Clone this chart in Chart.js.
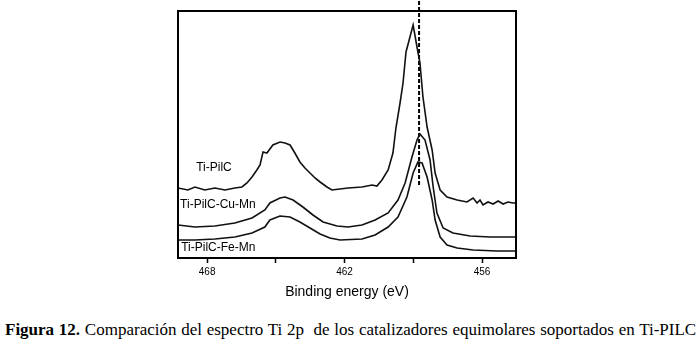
<!DOCTYPE html>
<html>
<head>
<meta charset="utf-8">
<script src="https://cdn.jsdelivr.net/npm/chart.js@4.4.1/dist/chart.umd.min.js"></script>
<style>
    html, body { margin: 0; padding: 0; background: #fff; }
    #wrap { position: relative; width: 700px; height: 346px; overflow: hidden; }
    #chart-box { position: absolute; left: 0; top: 0; width: 700px; height: 305px; }
    #caption {
        position: absolute; left: 5px; top: 320px; white-space: nowrap;
        font-family: "Liberation Serif", "Times New Roman", serif; font-size: 17px; word-spacing: 0.5px; color: #000;
    }
</style>
</head>
<body>
<div id="wrap">
    <div id="chart-box"><canvas id="xps-chart"></canvas></div>
    <div id="caption"><b>Figura 12.</b> Comparación del espectro Ti 2p&nbsp; de los catalizadores equimolares soportados en Ti-PILC</div>
</div>
<script>
// Ti 2p spectra, intensity in arbitrary units (offset stacked)
const tiPilcEnergy = [469.27, 468.84, 468.53, 468.10, 467.66, 467.22, 466.79, 466.48, 466.26, 466.04,
    465.83, 465.69, 465.56, 465.39, 465.13, 464.82, 464.60, 464.38, 464.17, 463.95,
    463.73, 463.51, 463.29, 463.07, 462.77, 462.55, 462.20, 461.85, 461.24, 460.80,
    460.59, 460.37, 460.10, 459.89, 459.76, 459.58, 459.45, 459.32, 459.01, 458.84,
    458.71, 458.58, 458.40, 458.18, 458.05, 457.83, 457.53, 457.09, 456.66, 456.39,
    456.22, 456.09, 455.96, 455.74, 455.52, 455.30, 455.08, 454.87, 454.65, 454.52];
const tiPilcCounts = [70, 68, 71, 68, 70, 68, 70, 71, 75, 81,
    88, 93, 106, 105, 113, 116, 115, 113, 105, 96,
    90, 85, 80, 76, 71, 68, 69, 70, 71, 73,
    72, 78, 88, 105, 130, 155, 175, 206, 233, 211,
    195, 161, 131, 108, 85, 68, 61, 58, 56, 60,
    55, 58, 53, 56, 54, 57, 54, 56, 55, 55];

const cuMnEnergy = [469.27, 468.53, 467.66, 466.79, 466.04, 465.48, 465.26, 464.82, 464.60, 464.25,
    463.82, 463.38, 462.94, 462.33, 461.85, 461.24, 460.67, 460.10, 459.67, 459.36,
    459.06, 458.84, 458.71, 458.49, 458.27, 458.14, 457.97, 457.70, 457.27, 456.52,
    455.65, 454.52];
const cuMnCounts = [33, 31, 32, 35, 40, 48, 55, 60, 61, 58,
    51, 43, 36, 32, 31, 33, 38, 45, 58, 75,
    101, 118, 124, 118, 98, 72, 45, 30, 25, 22,
    21, 21];

const feMnEnergy = [469.27, 468.53, 467.66, 466.79, 466.04, 465.48, 465.26, 464.82, 464.38, 463.95,
    463.51, 463.07, 462.64, 462.20, 461.24, 460.67, 460.10, 459.67, 459.28, 459.01,
    458.80, 458.62, 458.40, 458.18, 458.05, 457.83, 457.53, 457.09, 456.39, 455.35,
    454.52];
const feMnCounts = [18, 18, 19, 21, 25, 31, 38, 42, 41, 36,
    30, 24, 20, 18, 19, 23, 31, 41, 61, 85,
    96, 95, 81, 58, 38, 21, 13, 10, 8, 7,
    7];

const tickValues = [468, 465, 462, 459, 456];
const labelledTicks = [468, 462, 456];

const markerEnergy = 458.75;
const markerCounts = [73, 258];

const curveLabels = ['Ti-PilC', 'Ti-PilC-Cu-Mn', 'Ti-PilC-Fe-Mn'];
const curveLabelEnergy = [467.70, 467.53, 467.51];
const curveLabelCounts = [90, 53, 10];

function toPoints(xs, ys) {
    return xs.map((x, i) => ({ x: x, y: ys[i] }));
}

// frame round the plot and the curve names
const framePlugin = {
    id: 'frame',
    afterDatasetsDraw(chart) {
        const { ctx, chartArea, scales } = chart;
        ctx.save();
        ctx.strokeStyle = '#000';
        ctx.lineWidth = 2;
        ctx.strokeRect(chartArea.left, chartArea.top, chartArea.right - chartArea.left, chartArea.bottom - chartArea.top);
        ctx.fillStyle = '#000';
        ctx.font = '12px "Liberation Sans", Arial, sans-serif';
        ctx.textAlign = 'center';
        ctx.textBaseline = 'middle';
        curveLabels.forEach((txt, i) => {
            ctx.fillText(txt, scales.x.getPixelForValue(curveLabelEnergy[i]), scales.y.getPixelForValue(curveLabelCounts[i]));
        });
        ctx.restore();
    }
};

function init() {
    const lineStyle = { borderColor: '#111', borderWidth: 1.6, pointRadius: 0, tension: 0, fill: false };
    const ctx = document.getElementById('xps-chart').getContext('2d');
    window.xpsChart = new Chart(ctx, {
        type: 'line',
        data: {
            datasets: [
                Object.assign({ label: curveLabels[0], data: toPoints(tiPilcEnergy, tiPilcCounts) }, lineStyle),
                Object.assign({ label: curveLabels[1], data: toPoints(cuMnEnergy, cuMnCounts) }, lineStyle),
                Object.assign({ label: curveLabels[2], data: toPoints(feMnEnergy, feMnCounts) }, lineStyle),
                {
                    label: 'Ti 2p3/2',
                    data: markerCounts.map(c => ({ x: markerEnergy, y: c })),
                    borderColor: '#000', borderWidth: 2, borderDash: [4, 2],
                    pointRadius: 0, clip: false
                }
            ]
        },
        options: {
            responsive: true,
            maintainAspectRatio: false,
            animation: false,
            layout: { padding: { left: 178, right: 184, top: 11, bottom: 0 } },
            plugins: { legend: { display: false }, tooltip: { enabled: false } },
            scales: {
                x: {
                    type: 'linear',
                    reverse: true,
                    min: 454.52,
                    max: 469.27,
                    afterBuildTicks: axis => { axis.ticks = tickValues.map(v => ({ value: v })); },
                    afterFit: axis => { axis.height = 47; },
                    ticks: {
                        color: '#000',
                        padding: 3,
                        maxRotation: 0,
                        autoSkip: false,
                        font: { family: '"Liberation Sans", Arial, sans-serif', size: 10 },
                        callback: v => labelledTicks.includes(v) ? String(v) : ''
                    },
                    grid: { display: true, drawOnChartArea: false, tickLength: 5, tickColor: '#000', tickWidth: 1.5 },
                    border: { display: true, color: '#000', width: 2 },
                    title: {
                        display: true,
                        text: 'Binding energy (eV)',
                        color: '#000',
                        padding: { top: 0, bottom: 4 },
                        font: { family: '"Liberation Sans", Arial, sans-serif', size: 14 }
                    }
                },
                y: {
                    display: false,
                    min: 0,
                    max: 247
                }
            }
        },
        plugins: [framePlugin]
    });
}

document.addEventListener('DOMContentLoaded', init);
</script>
</body>
</html>
